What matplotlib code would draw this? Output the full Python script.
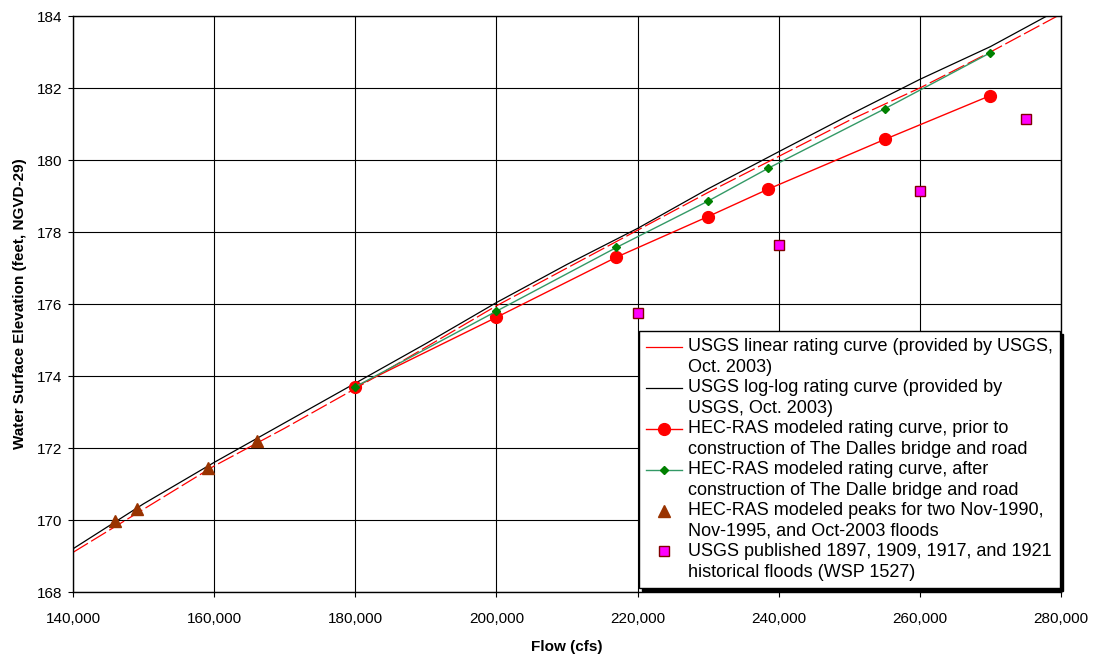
import matplotlib
matplotlib.use("Agg")
from matplotlib import pyplot as plt
from matplotlib.lines import Line2D
from matplotlib.legend_handler import HandlerLine2D
from matplotlib.ticker import FuncFormatter, MultipleLocator

plt.rcParams['font.family'] = ['Liberation Sans', 'DejaVu Sans']

# USGS linear rating curve (dashed red)
lin_q = [140000, 150000, 160000, 170000, 180000, 190000, 200000, 210000,
         220000, 230000, 240000, 250000, 260000, 270000, 279500]
lin_h = [169.1, 170.3, 171.5, 172.55, 173.65, 174.8, 175.95, 177.0,
         178.05, 179.1, 180.1, 181.1, 182.0, 183.0, 184.0]

# USGS log-log rating curve (black)
log_q = [140000, 150000, 160000, 170000, 180000, 190000, 200000, 210000,
         220000, 230000, 240000, 250000, 260000, 270000, 278000]
log_h = [169.2, 170.45, 171.6, 172.7, 173.8, 174.9, 176.04, 177.1,
         178.1, 179.2, 180.23, 181.25, 182.24, 183.15, 184.0]

# HEC-RAS modeled, prior to bridge
prior_q = [180000, 200000, 217000, 230000, 238500, 255000, 270000]
prior_h = [173.7, 175.63, 177.3, 178.43, 179.19, 180.57, 181.79]

# HEC-RAS modeled, after bridge
after_q = [180000, 200000, 217000, 230000, 238500, 255000, 270000]
after_h = [173.7, 175.8, 177.57, 178.86, 179.77, 181.42, 182.98]

# HEC-RAS modeled peaks
peak_q = [146000, 149100, 159100, 166100]
peak_h = [169.97, 170.3, 171.44, 172.2]

# USGS published historical floods
hist_q = [220000, 240000, 260000, 275000]
hist_h = [175.74, 177.64, 179.14, 181.15]

labels = [
    "USGS linear rating curve (provided by USGS,\nOct. 2003)",
    "USGS log-log rating curve (provided by\nUSGS, Oct. 2003)",
    "HEC-RAS modeled rating curve, prior to\nconstruction of The Dalles bridge and road",
    "HEC-RAS modeled rating curve, after\nconstruction of The Dalle bridge and road",
    "HEC-RAS modeled peaks for two Nov-1990,\nNov-1995, and Oct-2003 floods",
    "USGS published 1897, 1909, 1917, and 1921\nhistorical floods (WSP 1527)",
]


class FirstLineHandler(HandlerLine2D):
    # put the legend key level with the first line of a two-line label
    def create_artists(self, legend, orig_handle, xdescent, ydescent,
                       width, height, fontsize, trans):
        return super().create_artists(legend, orig_handle, xdescent,
                                      ydescent - 1.15 * fontsize, width, height,
                                      fontsize, trans)


fig = plt.figure(figsize=(10.93, 6.57), dpi=100)
ax = fig.add_axes([73/1093, 1-592/657, 988/1093, 576/657])

ax.plot(lin_q, lin_h, color="#FF0000", lw=0.9, dashes=(14, 3))
l2, = ax.plot(log_q, log_h, color="black", lw=0.9)
l3, = ax.plot(prior_q, prior_h, color="#FF0000", lw=1.0, marker="o", ms=8.5)
l4, = ax.plot(after_q, after_h, color="#339966", lw=1.0, marker="D", ms=4,
              mfc="#008000", mec="#008000")
l5, = ax.plot(peak_q, peak_h, ls="none", marker="^", ms=9, color="#993300")
l6, = ax.plot(hist_q, hist_h, ls="none", marker="s", ms=7, mfc="#FF00FF",
              mec="#800000", mew=1)
# legend shows the linear curve as a plain thin line
l1 = Line2D([], [], color="#FF0000", lw=0.9)

ax.set_xlim(140000, 280000)
ax.set_ylim(168, 184)
ax.xaxis.set_major_locator(MultipleLocator(20000))
ax.yaxis.set_major_locator(MultipleLocator(2))
ax.xaxis.set_major_formatter(FuncFormatter(lambda v, p: f"{int(v):,}"))
ax.grid(True, color="black", lw=0.8)
ax.set_axisbelow(True)
ax.tick_params(direction="out", length=3.5, width=0.8, labelsize=11)
ax.tick_params(axis="x", pad=11)
ax.tick_params(axis="y", pad=4)
for s in ax.spines.values():
    s.set_linewidth(1.0)

ax.set_xlabel("Flow (cfs)", fontsize=11, fontweight="bold", labelpad=10)
ax.set_ylabel("Water Surface Elevation (feet, NGVD-29)", fontsize=11,
              fontweight="bold", labelpad=7)

leg = ax.legend([l1, l2, l3, l4, l5, l6], labels,
                handler_map={Line2D: FirstLineHandler()},
                loc="lower right", bbox_to_anchor=(1060/1093, 1-588/657),
                bbox_transform=fig.transFigure, borderaxespad=0, fontsize=13,
                frameon=True, fancybox=False, framealpha=1, edgecolor="black",
                shadow={"color": "black", "alpha": 1}, handlelength=2.0,
                handletextpad=0.3, labelspacing=0.15, borderpad=0.4)
leg.get_frame().set_linewidth(1.0)
for t in leg.get_texts():
    t.set_linespacing(1.32)

fig.savefig("out.png", dpi=100)
